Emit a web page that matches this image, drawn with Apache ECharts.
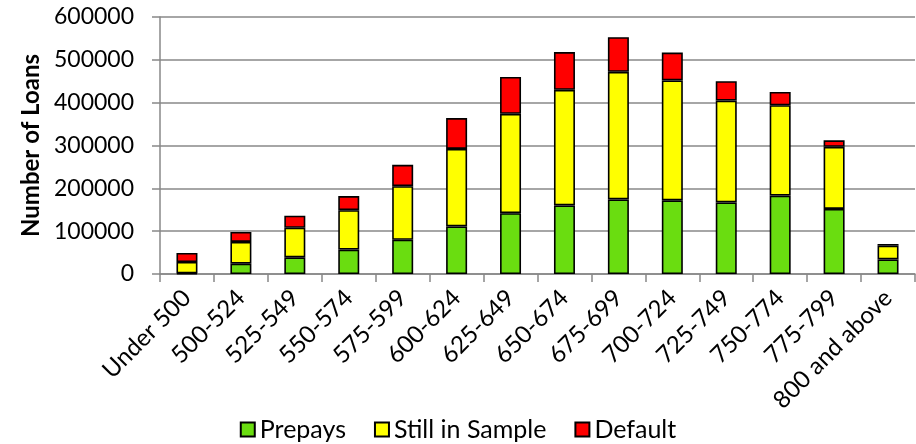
<!DOCTYPE html>
<html>
<head>
<meta charset="utf-8">
<script src="https://cdn.jsdelivr.net/npm/echarts@6/dist/echarts.min.js"></script>
<style>
  html, body { margin: 0; padding: 0; background: #fff; }
  #chart { width: 916px; height: 444px; }
</style>
</head>
<body>
<div id="chart"></div>
<script>
// Credit score buckets
const categories = ['Under 500', '500-524', '525-549', '550-574', '575-599', '600-624', '625-649',
  '650-674', '675-699', '700-724', '725-749', '750-774', '775-799', '800 and above'];

// Loan counts by outcome
const prepays = [1500, 24000, 39000, 57000, 80000, 111000, 142000, 160000, 174000, 172000, 167000, 183000, 152000, 34000];
const stillInSample = [26500, 51000, 69000, 92000, 125000, 181000, 232000, 270000, 298000, 280000, 238000, 211000, 145000, 32000];
const defaults = [21000, 23000, 28000, 33000, 50000, 72000, 86000, 88000, 81000, 65000, 45000, 31000, 15000, 4000];

const yTicks = { min: 0, max: 600000, interval: 100000 };

const FONT = 'Lato';
const gray = '#888888';

const chart = echarts.init(document.getElementById('chart'), null, { renderer: 'canvas' });

function barSeries(name, data, color) {
  return {
    name: name,
    type: 'bar',
    stack: 'total',
    data: data,
    barWidth: 21,
    itemStyle: { color: color, borderColor: '#000', borderWidth: 1.6 }
  };
}

chart.setOption({
  animation: false,
  textStyle: { fontFamily: FONT, color: '#000' },
  grid: { left: 160, right: 1, top: 17, bottom: 170, containLabel: false },
  legend: {
    top: 412,
    left: 'center',
    icon: 'rect',
    itemWidth: 14,
    itemHeight: 14,
    itemGap: 28,
    textStyle: { fontFamily: FONT, fontSize: 25, color: '#000' },
    data: ['Prepays', 'Still in Sample', 'Default']
  },
  xAxis: {
    type: 'category',
    data: categories,
    axisLine: { lineStyle: { color: gray, width: 1.5 } },
    axisTick: { show: true, length: 8, lineStyle: { color: gray, width: 1.5 } },
    axisLabel: { rotate: 45, margin: 20, fontSize: 24, color: '#000', fontFamily: FONT, interval: 0 }
  },
  yAxis: {
    type: 'value',
    min: yTicks.min,
    max: yTicks.max,
    interval: yTicks.interval,
    name: 'Number of Loans',
    nameLocation: 'middle',
    nameRotate: 90,
    nameGap: 116,
    nameTextStyle: { fontFamily: FONT, fontSize: 24, fontWeight: 'bold', color: '#000' },
    axisLine: { show: true, lineStyle: { color: gray, width: 1.5 } },
    axisTick: { show: true, length: 8, lineStyle: { color: gray, width: 1.5 } },
    axisLabel: { margin: 26, fontSize: 23, color: '#000', fontFamily: FONT, formatter: v => String(v) },
    splitLine: { lineStyle: { color: gray, width: 1.5 } }
  },
  series: [
    barSeries('Prepays', prepays, '#6ADD10'),
    barSeries('Still in Sample', stillInSample, '#FFFF00'),
    barSeries('Default', defaults, '#FF0000')
  ]
});
</script>
</body>
</html>
